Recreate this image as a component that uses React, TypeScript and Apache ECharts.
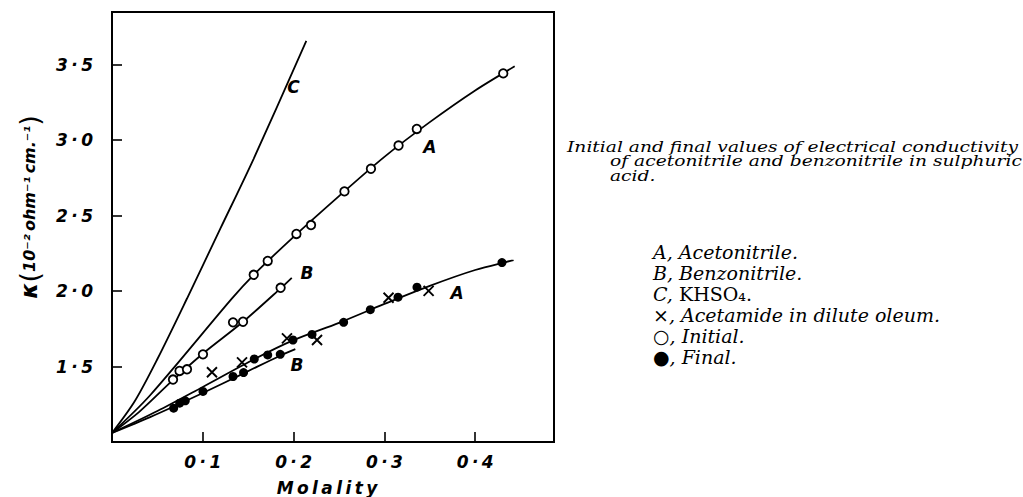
import React, { useEffect, useRef } from 'react';
import * as echarts from 'echarts';

// Tick labels
const xTickLabels = [0.1, 0.2, 0.3, 0.4];
const yTickLabels = [1.5, 2.0, 2.5, 3.0, 3.5];

// Drawn curves
const curveC = [[0, 1.06], [0.025, 1.27], [0.05, 1.55], [0.0826, 1.951], [0.1193, 2.414], [0.156, 2.877], [0.214, 3.659]];
const curveAInitial = [[0, 1.06], [0.042, 1.31], [0.1322, 1.952], [0.1561, 2.108], [0.2, 2.36], [0.25, 2.63], [0.3, 2.89], [0.35, 3.12], [0.4, 3.33], [0.4435, 3.49]];
const curveBInitial = [[0, 1.06], [0.03, 1.2], [0.067, 1.41], [0.1, 1.585], [0.144, 1.795], [0.186, 2.02], [0.198, 2.088]];
const curveAFinal = [[0, 1.06], [0.05, 1.205], [0.1, 1.365], [0.157, 1.55], [0.2, 1.675], [0.25, 1.79], [0.3, 1.915], [0.35, 2.035], [0.4, 2.14], [0.4423, 2.205]];
const curveBFinal = [[0, 1.06], [0.042, 1.165], [0.068, 1.235], [0.1, 1.325], [0.145, 1.455], [0.185, 1.572], [0.2019, 1.616]];

// Measured points
const initialA = [[0.1561, 2.108], [0.1715, 2.2], [0.2031, 2.379], [0.2192, 2.438], [0.256, 2.661], [0.2852, 2.811], [0.3156, 2.965], [0.3357, 3.075], [0.4309, 3.443]];
const initialB = [[0.0672, 1.414], [0.0744, 1.471], [0.0826, 1.482], [0.1002, 1.581], [0.1333, 1.793], [0.1443, 1.797], [0.1857, 2.022]];
const finalA = [[0.1567, 1.55], [0.1715, 1.577], [0.1993, 1.676], [0.2203, 1.713], [0.2551, 1.793], [0.2845, 1.877], [0.315, 1.96], [0.3359, 2.026], [0.4295, 2.189]];
const finalB = [[0.0679, 1.224], [0.0745, 1.257], [0.0807, 1.273], [0.1002, 1.335], [0.1333, 1.434], [0.1449, 1.46], [0.1853, 1.581]];
const acetamide = [[0.1101, 1.462], [0.1432, 1.528], [0.1927, 1.687], [0.2258, 1.676], [0.3046, 1.956], [0.3487, 2.002]];

// Curve letters
const curveLetters = ['C', 'A', 'B', 'B', 'A'];
const curveLetterPos = [[0.2, 3.35], [0.35, 2.955], [0.2147, 2.123], [0.2037, 1.51], [0.38, 1.99]];

const captionLines = [
  'Initial and final values of electrical conductivity',
  '{pad| }of acetonitrile and benzonitrile in sulphuric',
  '{pad| }acid.',
];
const legendLines = [
  '{i|A, Acetonitrile.}',
  '{i|B, Benzonitrile.}',
  '{i|C, }{r|KHSO₄.}',
  '{r|×}{i|, Acetamide in dilute oleum.}',
  '{r|○}{i|, Initial.}',
  '{r|●}{i|, Final.}',
];

const fmt = (v: number) => v.toFixed(1).replace('.', '\u2009·\u2009');
const has = (arr: number[], v: number) => arr.some((a) => Math.abs(a - v) < 1e-6);

const tickFont = {
  fontFamily: 'DejaVu Sans',
  fontStyle: 'italic' as const,
  fontWeight: 'bold' as const,
  fontSize: 17,
  color: '#000',
};

export default function App() {
  const ref = useRef<HTMLDivElement>(null);
  useEffect(() => {
    document.body.style.margin = '0';
    const chart = echarts.init(ref.current!, null, { renderer: 'svg' });
    const curve = (data: number[][]) => ({
      type: 'line',
      data,
      smooth: 0.3,
      showSymbol: false,
      symbol: 'none',
      lineStyle: { color: '#000', width: 1.8 },
      silent: true,
      z: 2,
    });
    const serifItalic = { fontFamily: 'DejaVu Serif', fontStyle: 'italic', fontSize: 19, color: '#000' };
    const serifRoman = { fontFamily: 'DejaVu Serif', fontStyle: 'normal', fontSize: 19, color: '#000' };
    const capScale = 1.245;
    chart.setOption({
      animation: false,
      backgroundColor: '#fff',
      grid: { left: 112, top: 12, width: 442, height: 430, show: true, borderColor: '#000', borderWidth: 2, backgroundColor: 'transparent' },
      xAxis: {
        type: 'value',
        min: 0,
        max: 0.4868,
        interval: 0.1,
        axisLine: { show: true, lineStyle: { color: '#000', width: 2 } },
        axisTick: { show: true, inside: true, length: 10, lineStyle: { color: '#000', width: 1.6 } },
        axisLabel: { ...tickFont, margin: 11, formatter: (v: number) => (has(xTickLabels, v) ? fmt(v) : '') },
        splitLine: { show: false },
      },
      yAxis: {
        type: 'value',
        min: 1.0,
        max: 3.85,
        interval: 0.5,
        axisLine: { show: true, lineStyle: { color: '#000', width: 2 } },
        axisTick: { show: true, inside: true, length: 10, lineStyle: { color: '#000', width: 1.6 } },
        axisLabel: { ...tickFont, margin: 19, formatter: (v: number) => (has(yTickLabels, v) ? fmt(v) : '') },
        splitLine: { show: false },
      },
      series: [
        curve(curveC),
        curve(curveAInitial),
        curve(curveBInitial),
        curve(curveAFinal),
        curve(curveBFinal),
        {
          type: 'scatter',
          data: [...initialA, ...initialB],
          symbol: 'circle',
          symbolSize: 8.5,
          itemStyle: { color: '#fff', borderColor: '#000', borderWidth: 1.8, opacity: 1 },
          z: 5,
        },
        {
          type: 'scatter',
          data: [...finalA, ...finalB],
          symbol: 'circle',
          symbolSize: 9,
          itemStyle: { color: '#000', opacity: 1 },
          z: 5,
        },
        {
          type: 'scatter',
          data: acetamide,
          symbol: 'path://M0,0L10,10M10,0L0,10',
          symbolSize: 10,
          itemStyle: { color: 'none', borderColor: '#000', borderWidth: 1.9, opacity: 1 },
          z: 5,
        },
        {
          type: 'scatter',
          data: curveLetters.map((n, i) => ({ name: n, value: curveLetterPos[i] })),
          symbolSize: 1,
          itemStyle: { color: 'transparent', opacity: 1 },
          label: {
            show: true,
            position: 'inside',
            formatter: (p: any) => p.name,
            fontFamily: 'DejaVu Sans',
            fontStyle: 'italic',
            fontWeight: 'bold',
            fontSize: 17,
            color: '#000',
            opacity: 1,
            textBorderWidth: 0,
          },
          z: 6,
        },
      ],
      graphic: [
        {
          type: 'text',
          x: 29,
          y: 207,
          rotation: Math.PI / 2,
          style: {
            text: '{k|κ}{p|(}{t|10⁻²\u2009ohm⁻¹\u2009cm.⁻¹}{p|)}',
            align: 'center',
            verticalAlign: 'middle',
            rich: {
              k: { fontFamily: 'DejaVu Sans', fontStyle: 'italic', fontWeight: 'bold', fontSize: 23 },
              p: { fontFamily: 'DejaVu Sans', fontWeight: 'normal', fontSize: 27 },
              t: { fontFamily: 'DejaVu Sans', fontStyle: 'italic', fontWeight: 'bold', fontSize: 16 },
            },
            fill: '#000',
          },
        },
        {
          type: 'text',
          x: 327,
          y: 488,
          style: {
            text: 'M\u2009o\u2009l\u2009a\u2009l\u2009i\u2009t\u2009y',
            align: 'center',
            verticalAlign: 'middle',
            fontFamily: 'DejaVu Sans',
            fontStyle: 'italic',
            fontWeight: 'bold',
            fontSize: 17,
            fill: '#000',
          },
        },
        {
          type: 'text',
          x: 567,
          y: 139,
          scaleX: capScale,
          style: {
            text: captionLines.join('\n'),
            ...serifItalic,
            fontSize: 15,
            lineHeight: 14.5,
            fill: '#000',
            align: 'left',
            verticalAlign: 'top',
            rich: { pad: { width: 43 / capScale, fontSize: 15, lineHeight: 14.5 } },
          },
        },
        {
          type: 'text',
          x: 653,
          y: 241,
          style: {
            text: legendLines.join('\n'),
            align: 'left',
            verticalAlign: 'top',
            lineHeight: 21,
            rich: { i: { ...serifItalic, lineHeight: 21 }, r: { ...serifRoman, lineHeight: 21 } },
            fill: '#000',
          },
        },
      ],
    });
    return () => chart.dispose();
  }, []);
  return <div ref={ref} style={{ width: 1023, height: 497 }} />;
}
